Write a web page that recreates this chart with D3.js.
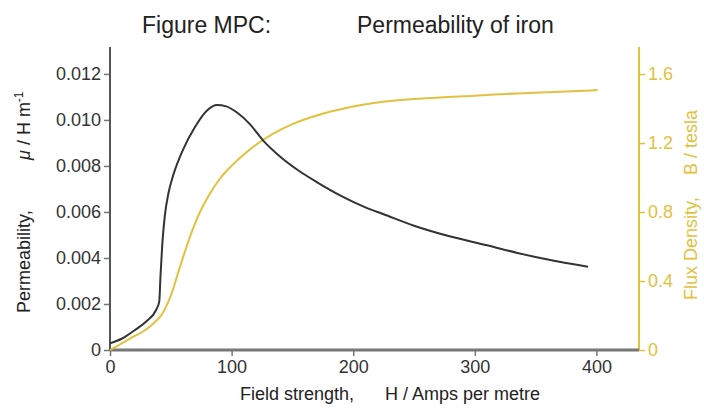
<!DOCTYPE html>
<html>
<head>
<meta charset="utf-8">
<script src="https://cdn.jsdelivr.net/npm/d3@7"></script>
<style>
  body { margin: 0; background: #fff; }
  svg text { font-family: "Liberation Sans", Arial, sans-serif; }
</style>
</head>
<body>
<svg id="chart" width="704" height="410"></svg>
<script>
// field strength H (A/m) and permeability mu (H/m)
var muH  = [0, 10, 20, 30, 38, 40.5, 41.5, 43, 45, 48, 52, 60, 70, 80, 88, 95, 105, 115, 126, 140, 155, 170, 190, 210, 225, 250, 280, 310, 335, 360, 393];
var muV  = [0.00029, 0.0005, 0.00085, 0.00125, 0.00175, 0.0021, 0.0032, 0.0046, 0.0058, 0.0068, 0.0076, 0.0087, 0.0097, 0.01042, 0.01065, 0.0106, 0.0103, 0.00982, 0.0091, 0.0084, 0.0078, 0.0073, 0.0067, 0.0062, 0.0059, 0.0054, 0.00493, 0.00455, 0.00422, 0.00393, 0.00362];

// field strength H (A/m) and flux density B (tesla)
var bH   = [0, 10, 20, 30, 38, 42, 46, 50, 57, 63, 68, 75, 82, 90, 101, 112, 123, 135, 150, 170, 195, 225, 260, 300, 335, 370, 401];
var bV   = [0.0, 0.04, 0.08, 0.12, 0.17, 0.2, 0.25, 0.315, 0.47, 0.6, 0.7, 0.815, 0.905, 0.99, 1.075, 1.145, 1.205, 1.258, 1.31, 1.36, 1.405, 1.44, 1.46, 1.475, 1.488, 1.497, 1.507];

var xTicks  = [0, 100, 200, 300, 400];
var muTicks = [0, 0.002, 0.004, 0.006, 0.008, 0.010, 0.012];
var bTicks  = [0, 0.4, 0.8, 1.2, 1.6];

var black = "#333333",
    yellow = "#e2c13e",
    grey = "#777777";

var svg = d3.select("#chart"),
    margin = {top: 47, right: 65, bottom: 60, left: 110},
    width = +svg.attr("width") - margin.left - margin.right,
    height = +svg.attr("height") - margin.top - margin.bottom,
    g = svg.append("g").attr("transform", "translate(" + margin.left + "," + margin.top + ")");

var x = d3.scaleLinear().domain([0, 435]).range([0, width]);
var yMu = d3.scaleLinear().domain([0, 0.01317]).range([height, 0]);
var yB = d3.scaleLinear().domain([0, 1.757]).range([height, 0]);

// axes
var xAxis = g.append("g")
    .attr("transform", "translate(0," + height + ")")
    .call(d3.axisBottom(x).tickValues(xTicks).tickSize(6).tickPadding(4).tickFormat(d3.format("d")));

var yAxisL = g.append("g")
    .call(d3.axisLeft(yMu).tickValues(muTicks).tickSize(6).tickPadding(3)
      .tickFormat(function(d) { return d === 0 ? "0" : d3.format(".3f")(d); }));

var yAxisR = g.append("g")
    .attr("transform", "translate(" + width + ",0)")
    .call(d3.axisRight(yB).tickValues(bTicks).tickSize(6).tickPadding(3)
      .tickFormat(function(d) { return d === 0 ? "0" : d3.format(".1f")(d); }));

[xAxis, yAxisL, yAxisR].forEach(function(a) {
    a.select(".domain").remove();
    a.selectAll("text").attr("font-size", 18).attr("font-family", null);
});
xAxis.selectAll("line").attr("stroke", grey).attr("stroke-width", 1.5);
xAxis.selectAll("text").attr("fill", "#333");
yAxisL.selectAll("line").attr("stroke", grey).attr("stroke-width", 1.5);
yAxisL.selectAll("text").attr("fill", "#333");
yAxisR.selectAll("line").attr("stroke", yellow).attr("stroke-width", 1.5);
yAxisR.selectAll("text").attr("fill", yellow);

// spines
g.append("line").attr("x1", 0).attr("x2", 0).attr("y1", 0).attr("y2", height)
    .attr("stroke", "#555").attr("stroke-width", 2);
g.append("line").attr("x1", width).attr("x2", width).attr("y1", 0).attr("y2", height)
    .attr("stroke", yellow).attr("stroke-width", 2);
g.append("line").attr("x1", 0).attr("x2", width).attr("y1", height).attr("y2", height)
    .attr("stroke", grey).attr("stroke-width", 3);

// curves
var lineB = d3.line()
    .x(function(d, i) { return x(bH[i]); })
    .y(function(d) { return yB(d); })
    .curve(d3.curveMonotoneX);

var lineMu = d3.line()
    .x(function(d, i) { return x(muH[i]); })
    .y(function(d) { return yMu(d); })
    .curve(d3.curveMonotoneX);

g.append("path").datum(bV).attr("d", lineB)
    .attr("fill", "none").attr("stroke", yellow).attr("stroke-width", 2);
g.append("path").datum(muV).attr("d", lineMu)
    .attr("fill", "none").attr("stroke", black).attr("stroke-width", 2);

// titles
svg.append("text").attr("x", 142).attr("y", 33).attr("font-size", 23).attr("fill", "#222")
    .text("Figure MPC:");
svg.append("text").attr("x", 357).attr("y", 33).attr("font-size", 23).attr("fill", "#222")
    .text("Permeability of iron");

var xt = svg.append("text").attr("x", 240).attr("y", 400).attr("font-size", 18).attr("fill", "#222");
xt.append("tspan").text("Field strength,");
xt.append("tspan").attr("x", 385).text("H / Amps per metre");

var yl = svg.append("text").attr("transform", "translate(30,313) rotate(-90)")
    .attr("font-size", 18).attr("fill", "#222");
yl.append("tspan").text("Permeability,");
yl.append("tspan").attr("x", 153).attr("font-style", "italic").text("\u03bc");
yl.append("tspan").text(" / H m");
yl.append("tspan").attr("dy", -7).attr("font-size", 12).text("-1");

var yr = svg.append("text").attr("transform", "translate(697,300) rotate(-90)")
    .attr("font-size", 18).attr("fill", yellow);
yr.append("tspan").text("Flux Density,");
yr.append("tspan").attr("x", 125).text("B / tesla");
</script>
</body>
</html>
